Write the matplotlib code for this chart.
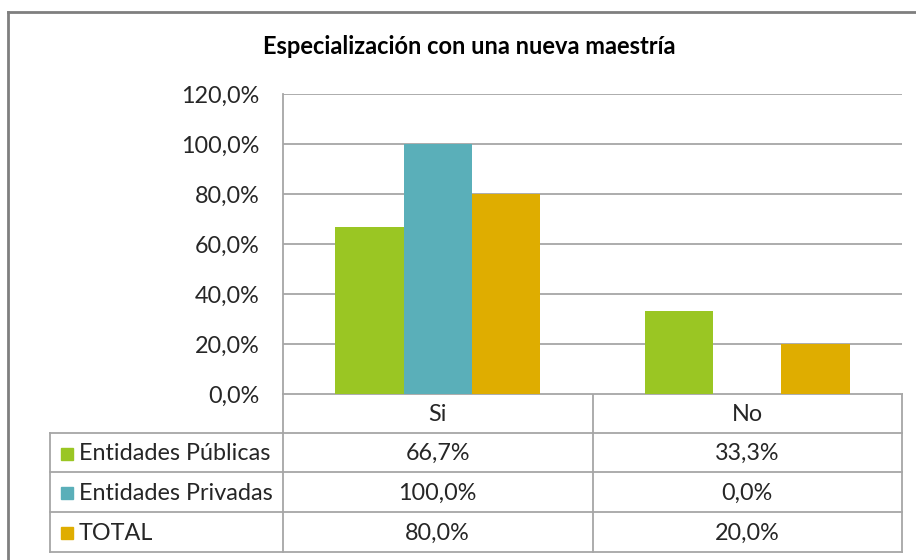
import matplotlib
matplotlib.use("Agg")
import matplotlib.pyplot as plt
import numpy as np
from matplotlib.lines import Line2D
from matplotlib.patches import Rectangle

title = "Especialización con una nueva maestría"
categories = ["Si", "No"]
series_names = ["Entidades Públicas", "Entidades Privadas", "TOTAL"]
publicas = [66.7, 33.3]
privadas = [100.0, 0.0]
total = [80.0, 20.0]
colors = ["#9AC623", "#5AAFB9", "#DFAD00"]
yticks = [0, 20, 40, 60, 80, 100, 120]

def fmt(v):
    return f"{v:.1f}%".replace(".", ",")

plt.rcParams['font.family'] = ['Lato', 'DejaVu Sans']

W, H = 916, 560
FS = 16.8
fig = plt.figure(figsize=(W / 100, H / 100), dpi=100)

# Background axes in pixel coordinates
bg = fig.add_axes([0, 0, 1, 1])
bg.set_xlim(0, W)
bg.set_ylim(H, 0)
bg.axis("off")

# Outer chart frame (left and top visible)
bg.add_line(Line2D([8, 8], [12, H], color="#7F7F7F", lw=2))
bg.add_line(Line2D([8, W], [12, 12], color="#7F7F7F", lw=2))

bg.text(469, 46, title, ha="center", va="center", fontsize=17, fontweight="bold", color="#000000")

# Plot area
px0, px1, py0, py1 = 283, 902, 94, 394
ax = fig.add_axes([px0 / W, 1 - py1 / H, (px1 - px0) / W, (py1 - py0) / H])
ax.set_xlim(-0.5, len(categories) - 0.5)
ax.set_ylim(0, 120)
series = [publicas, privadas, total]
bw = 0.221
x = np.arange(len(categories))
for i, (vals, c) in enumerate(zip(series, colors)):
    ax.bar(x + (i - 1) * bw, vals, width=bw, color=c, zorder=3)
ax.set_yticks(yticks)
ax.set_yticklabels([fmt(v) for v in yticks], fontsize=FS, color="#262626")
ax.yaxis.grid(True, color="#A6A6A6", lw=1.3)
ax.set_axisbelow(True)
ax.tick_params(axis="y", length=0, pad=17)
ax.set_xticks([])
for s in ["top", "right", "bottom"]:
    ax.spines[s].set_visible(False)
ax.spines["left"].set_color("#A6A6A6")
ax.spines["left"].set_linewidth(1.3)

# Data table
tl, tr = 50, 902
row_tops = [394, 433, 472, 512, 552]
lc = "#A6A6A6"
ncol = len(categories)
colw = (px1 - px0) / ncol
bg.add_line(Line2D([px0, tr], [row_tops[0], row_tops[0]], color=lc, lw=1.3))
for y in row_tops[1:]:
    bg.add_line(Line2D([tl, tr], [y, y], color=lc, lw=1.3))
bg.add_line(Line2D([tl, tl], [row_tops[1], row_tops[-1]], color=lc, lw=1.3))
for j in range(ncol + 1):
    xv = px0 + j * colw
    bg.add_line(Line2D([xv, xv], [row_tops[0], row_tops[-1]], color=lc, lw=1.3))

for j, cat in enumerate(categories):
    bg.text(px0 + (j + 0.5) * colw, (row_tops[0] + row_tops[1]) / 2 + 1, cat,
            ha="center", va="center", fontsize=FS, color="#262626")
for i, (name, vals, c) in enumerate(zip(series_names, series, colors)):
    yc = (row_tops[i + 1] + row_tops[i + 2]) / 2 + 1
    bg.add_patch(Rectangle((61, yc - 6), 12, 12, color=c))
    bg.text(79, yc, name, ha="left", va="center", fontsize=FS, color="#262626")
    for j, v in enumerate(vals):
        bg.text(px0 + (j + 0.5) * colw, yc, fmt(v), ha="center", va="center",
                fontsize=FS, color="#262626")

fig.savefig("out.png", dpi=100)
